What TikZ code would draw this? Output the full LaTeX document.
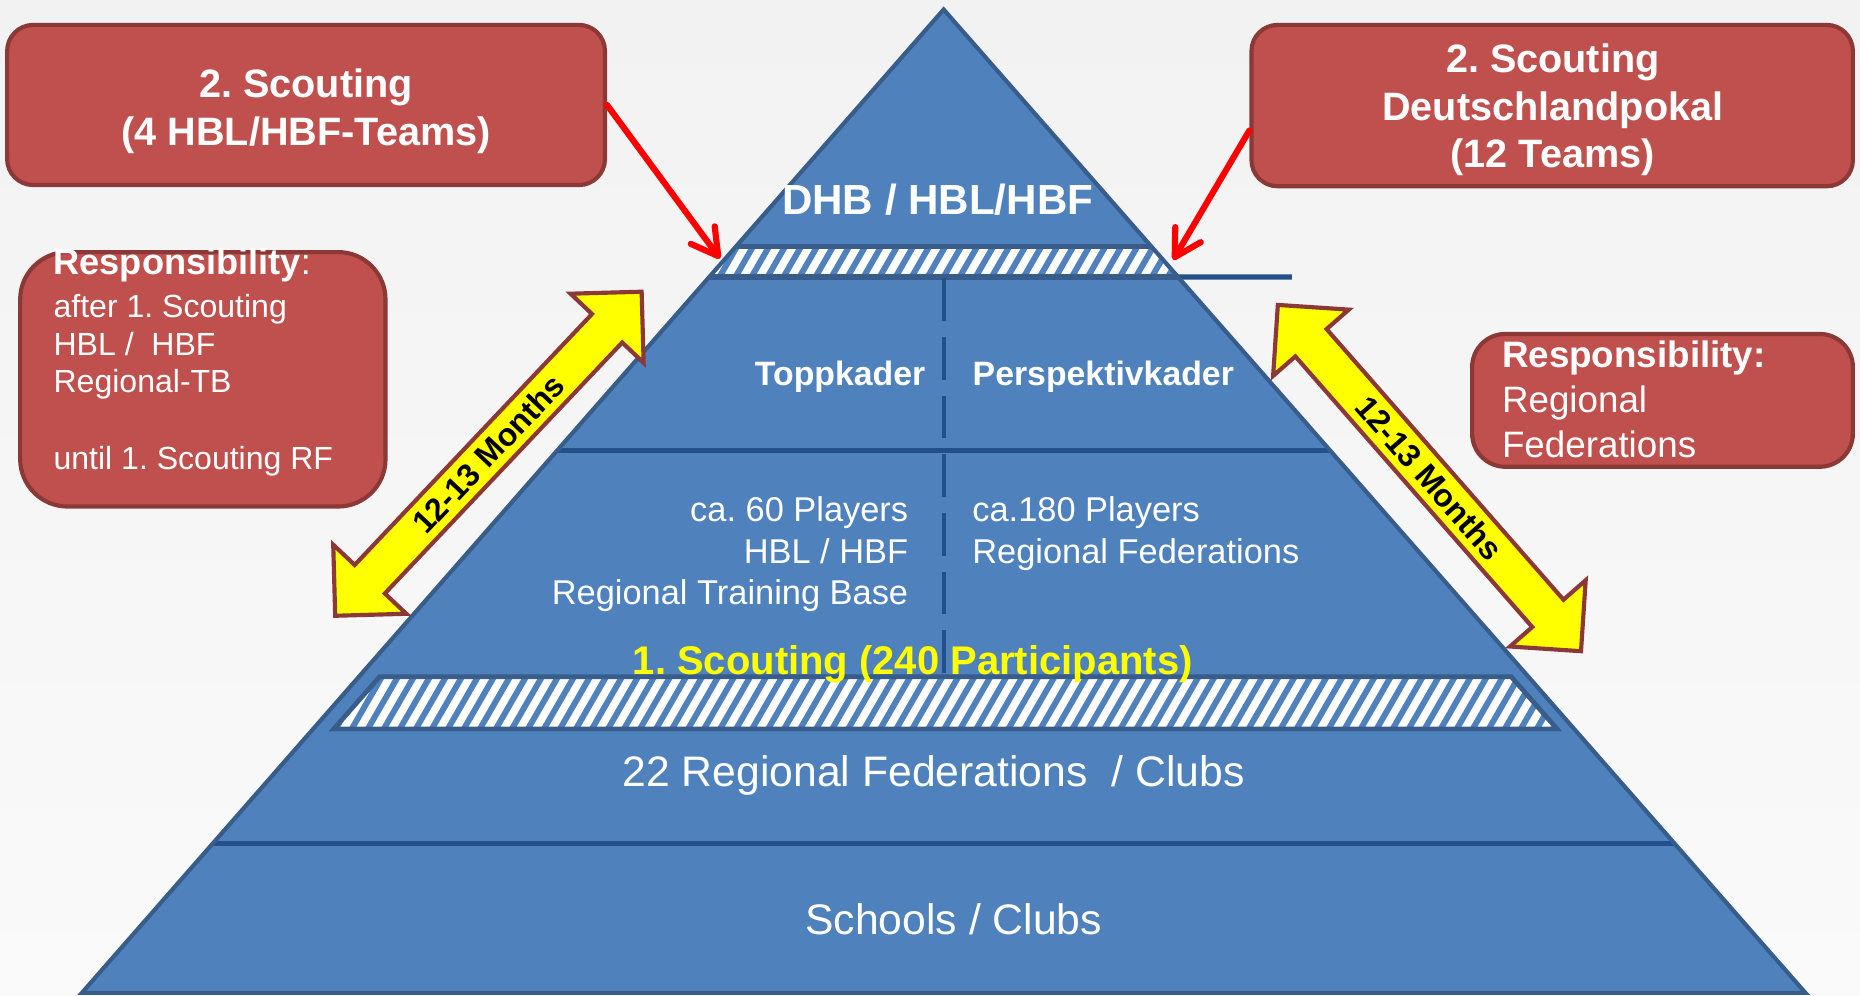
\documentclass[tikz,border=0pt]{standalone}
\usepackage{fontspec}
\setmainfont{Liberation Sans}
\usetikzlibrary{calc,arrows.meta}
\frenchspacing

\definecolor{bgtop}{HTML}{F2F2F2}
\definecolor{bgbot}{HTML}{FAFAFA}
\definecolor{pyrfill}{HTML}{4F81BD}
\definecolor{pyrline}{HTML}{385D8A}
\definecolor{secline}{HTML}{24508A}
\definecolor{boxfill}{HTML}{C0504D}
\definecolor{boxline}{HTML}{8C3836}
\definecolor{arrowyellow}{HTML}{FFFF00}

\newcommand\setfs[2]{\fontsize{#1pt}{#2pt}\selectfont}

\begin{document}
\begin{tikzpicture}[x=1pt,y=-1pt,
  txt/.style={inner sep=0pt,text=white},
  boxtitle/.style={txt,anchor=base,font=\bfseries\setfs{33.4}{40}},
  kader/.style={txt,font=\bfseries\setfs{28.5}{34}},
  info/.style={txt,font=\setfs{29}{35}},
  level/.style={txt,anchor=base,font=\setfs{36}{42}},
  months/.style={inner sep=0pt,text=black,font=\bfseries\setfs{27}{32}},
  redbox/.style={draw=boxline,fill=boxfill,line width=3.5pt,inner sep=0pt,rectangle},
  redarrow/.style={draw=red,line width=5.2pt,line cap=round,
    -{Straight Barb[length=22pt,width=25pt,round]}},
  yarrow/.style={fill=arrowyellow,draw=boxline,line width=3.5pt,line join=miter},
  stripe/.style={draw=pyrfill,line width=5pt},
  bandline/.style={draw=pyrline,line width=4.5pt},
  sectionline/.style={draw=secline,line width=4.5pt},
]
\useasboundingbox (0,0) rectangle (1568,839);
\shade[top color=bgtop,bottom color=bgbot] (0,0) rectangle (1568,839);

% pyramid corners
\coordinate (apex) at (795.5,8);
\coordinate (bl) at (69,837);
\coordinate (br) at (1522,837);
\fill[pyrfill] (apex) -- (bl) -- (br) -- cycle;

% edge points at the band heights
\coordinate (L208) at ($(apex)!0.24125!(bl)$);
\coordinate (R208) at ($(apex)!0.24125!(br)$);
\coordinate (L233) at ($(apex)!0.27201!(bl)$);
\coordinate (R233) at ($(apex)!0.27201!(br)$);
\coordinate (L380) at ($(apex)!0.44873!(bl)$);
\coordinate (R380) at ($(apex)!0.44873!(br)$);
\coordinate (L711) at ($(apex)!0.84801!(bl)$);
\coordinate (R711) at ($(apex)!0.84801!(br)$);

% upper hatched band (2. Scouting)
\begin{scope}
  \clip (L208) -- (R208) -- (R233) -- (L233) -- cycle;
  \fill[white] (L208) -- (R208) -- (R233) -- (L233) -- cycle;
  \foreach \k in {0,...,33} \draw[stripe] ({570+13.5*\k},250) -- ++(34.6,-60);
\end{scope}

% lower hatched band (1. Scouting)
\coordinate (sb1) at (320,570.5);
\coordinate (sb2) at (1274,570.5);
\coordinate (sb3) at (1312.6,614.5);
\coordinate (sb4) at (281.4,614.5);
\begin{scope}
  \clip (sb1) -- (sb2) -- (sb3) -- (sb4) -- cycle;
  \fill[white] (sb1) -- (sb2) -- (sb3) -- (sb4) -- cycle;
  \foreach \k in {0,...,82} \draw[stripe] ({250+13.5*\k},625) -- ++(34.6,-60);
\end{scope}
\draw[bandline,line width=4pt,line join=miter] (sb1) -- (sb2) -- (sb3) -- (sb4) -- cycle;

% band borders and section lines
\coordinate (ext) at (1089,233.5);
\draw[bandline] (L208) -- (R208);
\draw[bandline] (L233) -- (R233);
\draw[sectionline] (R233) -- (ext);
\draw[sectionline] (L380) -- (R380);
\draw[sectionline] (L711) -- (R711);

% dashed divider between the two squads
\coordinate (div1) at (795.8,234.5);
\coordinate (div2) at (795.8,567);
\draw[secline,line width=4pt,dash pattern=on 36pt off 13.5pt] (div1) -- (div2);

% pyramid outline
\draw[pyrline,line width=3.5pt,line join=miter] (apex) -- (bl) -- (br) -- cycle;

% pyramid texts
\node[txt,anchor=base,font=\bfseries\setfs{35.5}{40}] (dhb) at (790.5,180.7) {DHB / HBL/HBF};
\node[kader,anchor=base east] (topp) at (780.2,324.6) {Toppkader};
\node[kader,anchor=base west] (persp) at (819.8,324.6) {Perspektivkader};
\node[info,anchor=base east] (i1) at (765.8,439.8) {ca. 60 Players};
\node[info,anchor=base east] (i2) at (765.8,474.8) {HBL / HBF};
\node[info,anchor=base east] (i3) at (765.8,509.8) {Regional Training Base};
\node[info,anchor=base west] (j1) at (819.5,439.8) {ca.180 Players};
\node[info,anchor=base west] (j2) at (819.5,474.8) {Regional Federations};
\node[txt,text=arrowyellow,anchor=base,font=\bfseries\setfs{33.7}{40}] (scout1) at (769.5,569) {1. Scouting (240 Participants)};
\node[level] (rf) at (787,663.2) {22 Regional Federations~ / Clubs};
\node[level] (sc) at (804,787.4) {Schools / Clubs};

% yellow double arrows
\begin{scope}[shift={(411.75,382.5)},rotate=46.6]
  \draw[yarrow] (188,0) -- (145.6,42.4) -- (145.6,17.5) -- (-145.6,17.5) -- (-145.6,42.4)
    -- (-188,0) -- (-145.6,-42.4) -- (-145.6,-17.5) -- (145.6,-17.5) -- (145.6,-42.4) -- cycle;
\end{scope}
\node[months,rotate=46.6] (m1) at (411.75,382.5) {12-13 Months};
\begin{scope}[shift={(1205,403)},rotate=-48.8]
  \draw[yarrow] (194,0) -- (151.6,42.4) -- (151.6,17.5) -- (-151.6,17.5) -- (-151.6,42.4)
    -- (-194,0) -- (-151.6,-42.4) -- (-151.6,-17.5) -- (151.6,-17.5) -- (151.6,-42.4) -- cycle;
\end{scope}
\node[months,rotate=-48.8] (m2) at (1205,403) {12-13 Months};

% boxes (placed first so the red arrows can refer to them)
\node[redbox,rounded corners=22pt,minimum width=504pt,minimum height=135pt] (box1) at (258,88.5) {};
\node[redbox,rounded corners=22pt,minimum width=507pt,minimum height=136pt] (box2) at (1308.5,89) {};
\node[redbox,rounded corners=40pt,minimum width=308pt,minimum height=214.5pt] (box3) at (171,319.75) {};
\node[redbox,rounded corners=28pt,minimum width=321pt,minimum height=112pt] (box4) at (1401.5,337.5) {};

% red arrows to the upper band
\coordinate (tipL) at (607,218);
\coordinate (tipR) at (989,219);
\draw[redarrow] (box1.east) -- (tipL);
\draw[redarrow] ($(box2.west)+(0,21)$) -- (tipR);

% box texts
\node[boxtitle] (b1a) at (258,81.8) {2. Scouting};
\node[boxtitle] (b1b) at (258,122.5) {(4 HBL/HBF-Teams)};
\node[boxtitle] (b2a) at (1309,61.5) {2. Scouting};
\node[boxtitle] (b2b) at (1309,101.5) {Deutschlandpokal};
\node[boxtitle] (b2c) at (1309,141.5) {(12 Teams)};

\node[txt,anchor=base west,font=\setfs{30.5}{36}] (b3a) at (45,231.8) {\bfseries Responsibility\mdseries:};
\node[txt,anchor=base west,font=\setfs{27}{32}] (b3b) at (45,267.5) {after 1. Scouting};
\node[txt,anchor=base west,font=\setfs{27}{32}] (b3c) at (45,299.3) {HBL /~ HBF};
\node[txt,anchor=base west,font=\setfs{27}{32}] (b3d) at (45,331) {Regional-TB};
\node[txt,anchor=base west,font=\setfs{27}{32}] (b3e) at (45,395.6) {until 1. Scouting RF};

\node[txt,anchor=base west,font=\bfseries\setfs{31}{38}] (b4a) at (1266,309.7) {Responsibility:};
\node[txt,anchor=base west,font=\setfs{31}{38}] (b4b) at (1266,347.9) {Regional};
\node[txt,anchor=base west,font=\setfs{31}{38}] (b4c) at (1266,385.8) {Federations};
\end{tikzpicture}
\end{document}
